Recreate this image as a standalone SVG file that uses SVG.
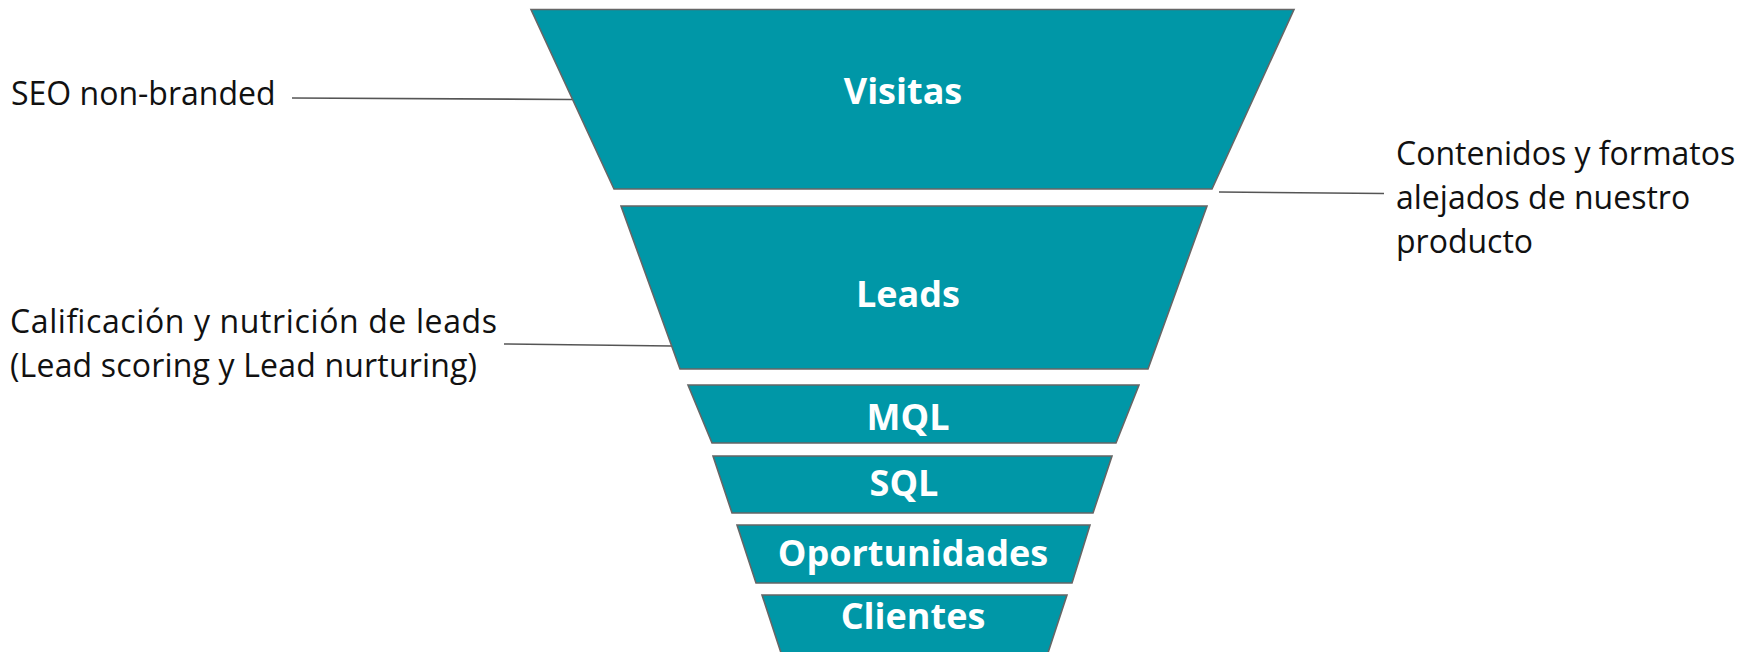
<svg xmlns="http://www.w3.org/2000/svg" width="1744" height="652" viewBox="0 0 1744 652">
<style>
.stage{fill:#0097A7;stroke:#666;stroke-width:1.6;stroke-linejoin:miter}
.stxt{font-family:"Open Sans","DejaVu Sans",sans-serif;font-weight:700;font-size:36px;fill:#fff;text-anchor:middle}
.lbl{font-family:"Open Sans","Liberation Sans",sans-serif;font-size:32px;fill:#111}
.conn{stroke:#555;stroke-width:1.6;fill:none}
</style>
<rect width="1744" height="652" fill="#fff"/>
<g id="connectors">
<line class="conn" x1="292" y1="98" x2="572" y2="99.5"/>
<line class="conn" x1="504" y1="344" x2="672" y2="346"/>
<line class="conn" x1="1219" y1="192" x2="1384" y2="193.5"/>
</g>
<g id="visitas">
<polygon class="stage" points="531,9.5 1294,9.5 1212,189 614,189"/>
<text class="stxt" x="903" y="104">Visitas</text>
</g>
<g id="leads">
<polygon class="stage" points="621,206 1207,206 1148,369 680,369"/>
<text class="stxt" x="908" y="307">Leads</text>
</g>
<g id="mql">
<polygon class="stage" points="688,385 1139,385 1116,443 712,443"/>
<text class="stxt" x="908" y="430">MQL</text>
</g>
<g id="sql">
<polygon class="stage" points="713,456 1112,456 1093,513 732,513"/>
<text class="stxt" x="904" y="496">SQL</text>
</g>
<g id="oportunidades">
<polygon class="stage" points="737,525 1090,525 1072,583 756,583"/>
<text class="stxt" x="913" y="566">Oportunidades</text>
</g>
<g id="clientes">
<polygon class="stage" points="762,595 1067,595 1044,665 785,665"/>
<text class="stxt" x="913" y="629">Clientes</text>
</g>
<g id="label-seo">
<text class="lbl" x="11" y="105">SEO non-branded</text>
</g>
<g id="label-calificacion">
<text class="lbl" x="10" y="333" textLength="487" lengthAdjust="spacing">Calificación y nutrición de leads</text>
<text class="lbl" x="10" y="377" textLength="467" lengthAdjust="spacing">(Lead scoring y Lead nurturing)</text>
</g>
<g id="label-contenidos">
<text class="lbl" x="1396" y="165">Contenidos y formatos</text>
<text class="lbl" x="1396" y="209">alejados de nuestro</text>
<text class="lbl" x="1396" y="253">producto</text>
</g>
</svg>
